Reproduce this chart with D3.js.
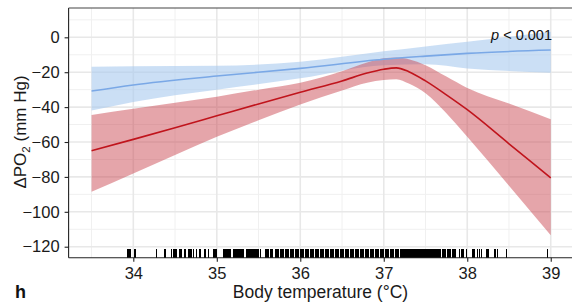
<!DOCTYPE html>
<html><head><meta charset="utf-8">
<script src="https://cdn.jsdelivr.net/npm/d3@7"></script>
<style>body{margin:0;background:#fff}svg{display:block;font-family:"Liberation Sans",Arial,sans-serif}</style>
</head><body>
<script>
// ---- data ----
const temps     = [33.5, 34, 34.5, 35, 35.5, 36, 36.5, 36.8, 37, 37.15, 37.3, 37.5, 37.75, 38, 38.5, 39];
const redFit    = [-65, -58.5, -51.8, -45, -38.2, -31.5, -25, -20.5, -18.3, -17.5, -19.7, -25, -33, -41.5, -61, -80.5];
const redUpper  = [-44.5, -41, -37.5, -34, -30, -26, -19.5, -14.5, -12, -11.5, -12.5, -16, -22.5, -29, -38, -47];
const redLower  = [-88.5, -78, -67.5, -57, -47.5, -38.5, -30.5, -26, -24.5, -24, -26.5, -32, -43.5, -57, -85, -113.5];
const blueTemps = [33.5, 34, 35, 36, 37, 37.5, 38, 39];
const blueFit   = [-30.8, -27.3, -22.2, -17.8, -12.6, -10.8, -9.2, -7.3];
const blueUpper = [-16.8, -16.6, -16.3, -14, -8, -5.2, -2.5, 3.2];
const blueLower = [-42, -37, -30, -23.5, -16, -15.5, -17.8, -20.3];
const xTicks = [34, 35, 36, 37, 38, 39];
const yTicks = [0, -20, -40, -60, -80, -100, -120];
const rug = [33.93,33.95,33.97,34.02,34.28,34.38,34.46,34.48,34.5,34.52,34.56,34.58,34.62,34.66,34.68,34.7,34.72,34.76,34.8,34.86,34.9,34.96,34.98,35.0,35.08,35.1,35.12,35.14,35.16,35.2,35.22,35.24,35.26,35.28,35.3,35.32,35.36,35.38,35.4,35.42,35.44,35.46,35.48,35.5,35.52,
35.58,35.6,35.62,35.64,35.66,35.7,35.72,35.74,35.76,35.78,35.8,35.82,35.84,35.86,35.88,35.9,35.92,35.94,35.96,35.98,36.0,36.02,36.04,36.06,36.08,36.1,36.12,36.14,36.16,36.18,36.2,36.22,36.24,36.26,36.28,36.3,36.32,36.34,36.36,36.38,36.4,36.42,36.44,36.46,36.48,36.5,36.52,36.54,36.56,36.58,36.6,36.62,36.64,36.66,36.68,36.7,36.72,36.74,36.76,36.78,36.8,36.82,36.84,36.86,36.88,36.9,36.92,36.94,36.96,36.98,37.0,37.02,37.04,37.06,37.08,37.1,37.12,37.14,37.16,37.18,37.2,37.22,37.24,37.26,37.28,37.3,37.32,37.34,37.36,37.38,37.4,37.42,37.44,37.46,37.48,37.5,37.52,37.54,37.56,37.58,37.6,37.62,37.64,37.66,37.68,37.7,37.72,37.74,37.76,37.78,37.8,37.82,37.84,37.86,
37.91,37.93,37.95,37.99,38.07,38.09,38.12,38.15,38.17,38.23,38.25,38.33,38.36,38.47,38.96];

// ---- layout ----
const W = 572, H = 304;
const FONT = '"Liberation Sans",Arial,sans-serif';
const svg = d3.select("body").append("svg").attr("width", W).attr("height", H);
const x = d3.scaleLinear().domain([33.225, 39.275]).range([68.6, 573.7]);
const y = d3.scaleLinear().domain([-126.3, 16.8]).range([257.7, 8]);
const L = 68.6, R = 572, T = 8, B = 257.7;

// grid
const grid = svg.append("g");
const xMinor = [33.5, 34.5, 35.5, 36.5, 37.5, 38.5];
const yMinor = [10, -10, -30, -50, -70, -90, -110];
grid.selectAll(".xm").data(xMinor).join("line").attr("x1", d => x(d)).attr("x2", d => x(d)).attr("y1", T).attr("y2", B).attr("stroke", "#f0f0f0").attr("stroke-width", 1);
grid.selectAll(".ym").data(yMinor).join("line").attr("y1", d => y(d)).attr("y2", d => y(d)).attr("x1", L).attr("x2", R).attr("stroke", "#f0f0f0").attr("stroke-width", 1);
grid.selectAll(".xM").data(xTicks).join("line").attr("x1", d => x(d)).attr("x2", d => x(d)).attr("y1", T).attr("y2", B).attr("stroke", "#e8e8e8").attr("stroke-width", 1.6);
grid.selectAll(".yM").data(yTicks).join("line").attr("y1", d => y(d)).attr("y2", d => y(d)).attr("x1", L).attr("x2", R).attr("stroke", "#e8e8e8").attr("stroke-width", 1.6);

// bands
const curve = d3.curveMonotoneX;
const blueData = blueTemps.map((t, i) => ({t, f: blueFit[i], u: blueUpper[i], l: blueLower[i]}));
const redData = temps.map((t, i) => ({t, f: redFit[i], u: redUpper[i], l: redLower[i]}));
const area = d3.area().x(d => x(d.t)).y0(d => y(d.l)).y1(d => y(d.u)).curve(curve);
const line = d3.line().x(d => x(d.t)).y(d => y(d.f)).curve(curve);

svg.append("path").datum(blueData).attr("d", area).attr("fill", "#a9c9ef").attr("fill-opacity", 0.6);
svg.append("path").datum(redData).attr("d", area).attr("fill", "#c9434d").attr("fill-opacity", 0.48);
svg.append("path").datum(blueData).attr("d", line).attr("fill", "none").attr("stroke", "#7aa8e6").attr("stroke-width", 1.6);
svg.append("path").datum(redData).attr("d", line).attr("fill", "none").attr("stroke", "#c0141c").attr("stroke-width", 1.6);

// rug
svg.append("g").attr("shape-rendering", "crispEdges").selectAll("line").data(rug).join("line")
  .attr("x1", d => x(d)).attr("x2", d => x(d)).attr("y1", 249).attr("y2", B)
  .attr("stroke", "#000").attr("stroke-width", 1.4);

// axes
const xAxis = d3.axisBottom(x).tickValues(xTicks).tickSize(4).tickPadding(6).tickFormat(d3.format("d"));
const yAxis = d3.axisLeft(y).tickValues(yTicks).tickSize(4).tickPadding(5).tickFormat(d3.format("d"));
const gx = svg.append("g").attr("transform", `translate(0,${B})`).call(xAxis);
const gy = svg.append("g").attr("transform", `translate(${L},0)`).call(yAxis);
[gx, gy].forEach(g => {
  g.select(".domain").remove();
  g.selectAll(".tick line").attr("stroke", "#222").attr("stroke-width", 1.1);
  g.selectAll(".tick text").attr("fill", "#1a1a1a").style("font-size", "16.5px").style("font-family", FONT);
});
svg.append("line").attr("x1", L).attr("x2", R).attr("y1", B).attr("y2", B).attr("stroke", "#222").attr("stroke-width", 1.1);
svg.append("line").attr("x1", L).attr("x2", L).attr("y1", T).attr("y2", B).attr("stroke", "#222").attr("stroke-width", 1.1);
svg.append("line").attr("x1", L).attr("x2", R).attr("y1", T).attr("y2", T).attr("stroke", "#444").attr("stroke-width", 1.1);

// labels
svg.append("text").attr("x", 320.5).attr("y", 297.5).attr("text-anchor", "middle").style("font-size", "17.5px").attr("fill", "#1a1a1a").text("Body temperature (°C)");
const yt = svg.append("text").attr("transform", "translate(26,132) rotate(-90)").attr("text-anchor", "middle").style("font-size", "17px").attr("fill", "#1a1a1a");
yt.append("tspan").text("ΔPO");
yt.append("tspan").attr("dy", 4).style("font-size", "11.5px").text("2");
yt.append("tspan").attr("dy", -4).text(" (mm Hg)");
const pt = svg.append("text").attr("x", 552).attr("y", 40).attr("text-anchor", "end").style("font-size", "14.5px").attr("fill", "#111");
pt.append("tspan").style("font-style", "italic").text("p");
pt.append("tspan").text(" < 0.001");
svg.append("text").attr("x", 15).attr("y", 298).style("font-size", "18px").style("font-weight", "bold").attr("fill", "#111").text("h");
</script>
</body></html>
